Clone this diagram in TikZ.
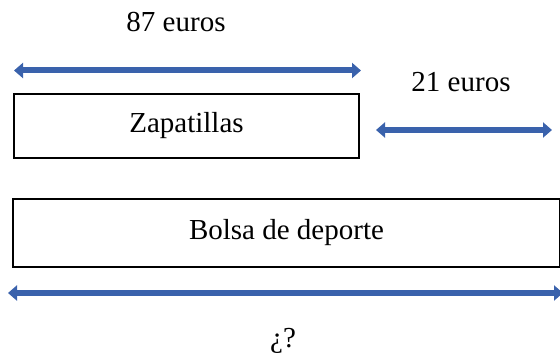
\documentclass[tikz,border=0pt]{standalone}
\usepackage{fontspec}
\setmainfont{Liberation Serif}
\usetikzlibrary{arrows.meta}
\definecolor{arrowblue}{HTML}{3A62AC}
\tikzset{
  lbl/.style={font=\fontsize{29}{33}\selectfont, inner sep=0pt},
  box/.style={draw=black, line width=1.3pt, font=\fontsize{29}{33}\selectfont, inner sep=0pt},
  dim/.style={draw=arrowblue, line width=6pt, {Triangle[length=9pt,width=15pt]}-{Triangle[length=9pt,width=15pt]}},
}
\begin{document}
\begin{tikzpicture}[x=1pt,y=-1pt]
\useasboundingbox (0,0) rectangle (560,361);
\node[lbl] (t87) at (176,22) {87 euros};
\node[lbl] (t21) at (461,82) {21 euros};
\node[lbl] (tq) at (283,341) {¿?};
\node[box, minimum width=345pt, minimum height=64pt] (zap) at (186.5,126) {Zapatillas};
\node[box, minimum width=547pt, minimum height=68pt] (bolsa) at (286.5,233) {Bolsa de deporte};
\coordinate (a1) at (14,70.5);
\coordinate (a2) at (361,70.5);
\coordinate (b1) at (376,130);
\coordinate (b2) at (552,130);
\coordinate (c1) at (8,293);
\coordinate (c2) at (563,293);
\draw[dim] (a1) -- (a2);
\draw[dim] (b1) -- (b2);
\draw[dim] (c1) -- (c2);
\end{tikzpicture}
\end{document}
